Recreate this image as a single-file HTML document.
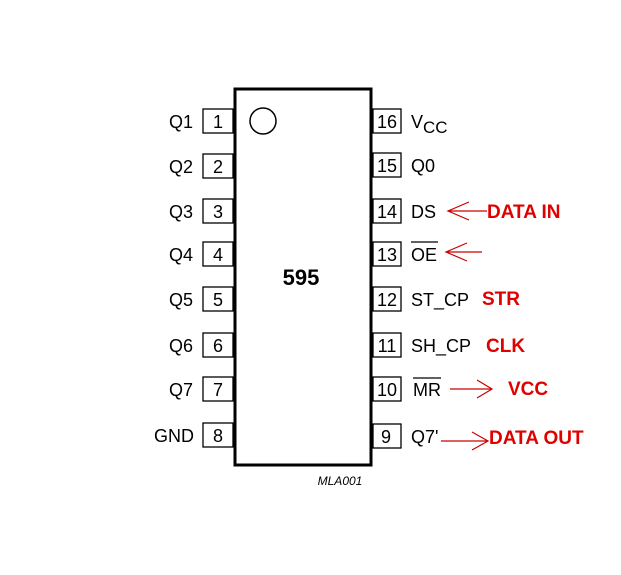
<!DOCTYPE html>
<html><head><style>body{margin:0;background:#fff}</style></head><body>
<svg width="621" height="570" xmlns="http://www.w3.org/2000/svg" font-family="Liberation Sans, Arial, sans-serif">
<rect x="0" y="0" width="621" height="570" fill="#fff"/>
<rect x="235" y="89" width="136" height="376" fill="none" stroke="#000" stroke-width="3"/>
<circle cx="263" cy="121" r="13" fill="none" stroke="#000" stroke-width="1.5"/>
<text x="301" y="285" font-size="22" font-weight="bold" text-anchor="middle">595</text>
<text x="340" y="485" font-size="12" font-style="italic" text-anchor="middle">MLA001</text>
<g fill="none" stroke="#000" stroke-width="1.3">
<rect x="203" y="109" width="30" height="24"/><rect x="203" y="154" width="30" height="24"/>
<rect x="203" y="199" width="30" height="24"/><rect x="203" y="242" width="30" height="24"/>
<rect x="203" y="287" width="30" height="24"/><rect x="203" y="333" width="30" height="24"/>
<rect x="203" y="377" width="30" height="24"/><rect x="203" y="423" width="30" height="24"/>
<rect x="373" y="109" width="28" height="24"/><rect x="373" y="153" width="28" height="24"/>
<rect x="373" y="199" width="28" height="24"/><rect x="373" y="242" width="28" height="24"/>
<rect x="373" y="287" width="28" height="24"/><rect x="373" y="333" width="28" height="24"/>
<rect x="373" y="377" width="28" height="24"/><rect x="373" y="424" width="28" height="24"/>
</g>
<g font-size="18" text-anchor="middle">
<text x="218" y="128">1</text><text x="218" y="173">2</text><text x="218" y="218">3</text><text x="218" y="261">4</text>
<text x="218" y="306">5</text><text x="218" y="352">6</text><text x="218" y="396">7</text><text x="218" y="442">8</text>
<text x="387" y="128">16</text><text x="387" y="172">15</text><text x="387" y="218">14</text><text x="387" y="261">13</text>
<text x="387" y="306">12</text><text x="387" y="352">11</text><text x="387" y="396">10</text><text x="386" y="443">9</text>
</g>
<g font-size="18" text-anchor="end">
<text x="193" y="128">Q1</text><text x="193" y="173">Q2</text><text x="193" y="218">Q3</text><text x="193" y="261">Q4</text>
<text x="193" y="306">Q5</text><text x="193" y="352">Q6</text><text x="193" y="396">Q7</text><text x="194" y="442">GND</text>
</g>
<g font-size="18">
<text x="411" y="128">V<tspan font-size="17" dy="5">CC</tspan></text>
<text x="411" y="172">Q0</text><text x="411" y="218">DS</text><text x="411" y="261">OE</text>
<text x="411" y="306">ST_CP</text><text x="411" y="352">SH_CP</text><text x="413" y="396">MR</text><text x="411" y="443">Q7'</text>
</g>
<g stroke="#000" stroke-width="1.2"><line x1="411" y1="242" x2="438" y2="242"/><line x1="413" y1="378" x2="441" y2="378"/></g>
<g stroke="#c00" stroke-width="1.2" fill="none">
<path d="M448 211H487M469 202L448 211L469 220"/>
<path d="M446 252H482M467 243L446 252L467 261"/>
<path d="M450 389H492M477 380L492 389L477 398"/>
<path d="M441 441H488M472 432L488 441L472 450"/>
</g>
<g font-size="19" font-weight="bold" fill="#e00000">
<text x="487" y="218">DATA IN</text><text x="482" y="305">STR</text><text x="486" y="352">CLK</text>
<text x="508" y="395">VCC</text><text x="489" y="444">DATA OUT</text>
</g>
</svg>
</body></html>
